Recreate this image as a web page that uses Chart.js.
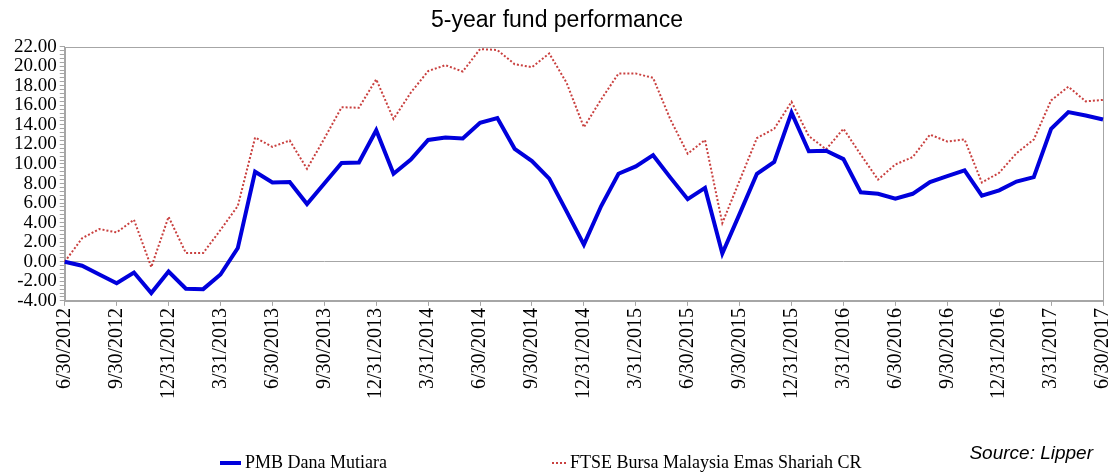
<!DOCTYPE html>
<html lang="en">
  <head>
    <meta charset="UTF-8" />
    <title>5-year fund performance</title>
    <style>
      * {
        margin: 0;
        padding: 0;
        box-sizing: border-box;
      }
      body {
        background: white;
      }
      .chartBox {
        width: 1115px;
        height: 473px;
      }
    </style>
  </head>
  <body>
    <div class="chartBox">
      <canvas id="myChart"></canvas>
    </div>

    <script src="https://cdn.jsdelivr.net/npm/chart.js"></script>

    <script>
      // month-end dates, 6/2012 .. 6/2017
      const months = [
        "6/30/2012", "7/31/2012", "8/31/2012", "9/30/2012", "10/31/2012", "11/30/2012", "12/31/2012",
        "1/31/2013", "2/28/2013", "3/31/2013", "4/30/2013", "5/31/2013", "6/30/2013",
        "7/31/2013", "8/31/2013", "9/30/2013", "10/31/2013", "11/30/2013", "12/31/2013",
        "1/31/2014", "2/28/2014", "3/31/2014", "4/30/2014", "5/31/2014", "6/30/2014",
        "7/31/2014", "8/31/2014", "9/30/2014", "10/31/2014", "11/30/2014", "12/31/2014",
        "1/31/2015", "2/28/2015", "3/31/2015", "4/30/2015", "5/31/2015", "6/30/2015",
        "7/31/2015", "8/31/2015", "9/30/2015", "10/31/2015", "11/30/2015", "12/31/2015",
        "1/31/2016", "2/29/2016", "3/31/2016", "4/30/2016", "5/31/2016", "6/30/2016",
        "7/31/2016", "8/31/2016", "9/30/2016", "10/31/2016", "11/30/2016", "12/31/2016",
        "1/31/2017", "2/28/2017", "3/31/2017", "4/30/2017", "5/31/2017", "6/30/2017",
      ];

      const fundName = "PMB Dana Mutiara";
      const fundValues = [
        0, -0.4, -1.3, -2.2, -1.1, -3.2, -1.0,
        -2.75, -2.8, -1.3, 1.4, 9.2, 8.1,
        8.15, 5.9, 8.0, 10.1, 10.15, 13.45,
        9.0, 10.45, 12.45, 12.7, 12.6, 14.2,
        14.7, 11.55, 10.3, 8.5, 5.15, 1.75,
        5.7, 9.0, 9.75, 10.9, 8.6, 6.4,
        7.55, 0.85, 4.9, 9.0, 10.2, 15.25,
        11.3, 11.35, 10.5, 7.1, 6.95, 6.45,
        6.95, 8.15, 8.75, 9.35, 6.75, 7.3,
        8.2, 8.65, 13.6, 15.3, 14.95, 14.55,
      ];

      const indexName = "FTSE Bursa Malaysia Emas Shariah CR";
      const indexValues = [
        0, 2.4, 3.35, 3.0, 4.3, -0.55, 4.6,
        0.9, 0.9, 3.25, 5.7, 12.7, 11.75,
        12.4, 9.5, 12.6, 15.8, 15.75, 18.65,
        14.6, 17.3, 19.5, 20.1, 19.45, 21.75,
        21.65, 20.2, 19.9, 21.3, 18.3, 13.75,
        16.6, 19.25, 19.25, 18.8, 14.55, 11.05,
        12.45, 3.95, 8.3, 12.65, 13.6, 16.35,
        12.85, 11.5, 13.6, 10.95, 8.4, 9.95,
        10.7, 13.0, 12.3, 12.5, 8.1, 9.1,
        11.1, 12.5, 16.5, 17.9, 16.4, 16.55,
      ];

      const yMin = -4;
      const yMax = 22;
      const sourceText = "Source: Lipper";

      const axisGray = "#a6a6a6";

      // box around the plot area
      const plotFrame = {
        id: "plotFrame",
        beforeDatasetsDraw(chart) {
          const { ctx, chartArea: a } = chart;
          ctx.save();
          ctx.strokeStyle = axisGray;
          ctx.lineWidth = 1;
          ctx.strokeRect(
            Math.round(a.left) + 0.5,
            Math.round(a.top) + 0.5,
            Math.round(a.right - a.left),
            Math.round(a.bottom - a.top)
          );
          ctx.restore();
        },
      };

      // legend row + source note at the bottom
      const bottomNotes = {
        id: "bottomNotes",
        afterDraw(chart, args, opts) {
          const { ctx } = chart;
          ctx.save();
          ctx.font = opts.font;
          ctx.fillStyle = "#000";
          ctx.textBaseline = "alphabetic";
          chart.data.datasets.forEach((ds, i) => {
            const item = opts.items[i];
            ctx.save();
            ctx.strokeStyle = ds.borderColor;
            ctx.lineWidth = item.lineWidth;
            ctx.setLineDash(ds.borderDash || []);
            ctx.beginPath();
            ctx.moveTo(item.x, opts.lineY);
            ctx.lineTo(item.x + item.w, opts.lineY);
            ctx.stroke();
            ctx.restore();
            ctx.fillText(ds.label, item.x + item.w + 4, opts.textY);
          });
          ctx.font = opts.sourceFont;
          ctx.textAlign = "right";
          ctx.fillText(sourceText, opts.sourceX, opts.sourceY);
          ctx.restore();
        },
      };

      const data = {
        labels: months,
        datasets: [
          {
            label: fundName,
            data: fundValues,
            borderColor: "#0000dc",
            backgroundColor: "#0000dc",
            borderWidth: 4,
            pointRadius: 0,
            tension: 0,
          },
          {
            label: indexName,
            data: indexValues,
            borderColor: "#c9403f",
            backgroundColor: "#c9403f",
            borderWidth: 2,
            borderDash: [2, 2],
            pointRadius: 0,
            tension: 0,
          },
        ],
      };

      const config = {
        type: "line",
        data: data,
        options: {
          responsive: true,
          maintainAspectRatio: false,
          animation: false,
          layout: {
            padding: { left: 11, right: 12, top: 0, bottom: 72 },
          },
          plugins: {
            legend: { display: false },
            tooltip: { enabled: false },
            title: {
              display: true,
              text: "5-year fund performance",
              color: "#000",
              font: { family: "'Liberation Sans', Arial, sans-serif", size: 23, weight: "normal" },
              padding: { top: 7, bottom: 12 },
            },
            bottomNotes: {
              font: "18px 'Liberation Serif', serif",
              lineY: 463,
              textY: 468,
              items: [
                { x: 220, w: 21, lineWidth: 4 },
                { x: 552, w: 14, lineWidth: 2 },
              ],
              sourceFont: "italic 19px 'Liberation Sans', sans-serif",
              sourceX: 1093,
              sourceY: 459,
            },
          },
          scales: {
            x: {
              // the rotated end label would otherwise push the plot in from the right
              afterFit: (scale) => {
                scale.paddingRight = 0;
              },
              grid: {
                drawOnChartArea: false,
                tickLength: 5,
                tickColor: (c) => (c.index % 3 === 0 ? axisGray : "rgba(0,0,0,0)"),
              },
              border: { display: true, color: axisGray },
              ticks: {
                autoSkip: false,
                minRotation: 90,
                maxRotation: 90,
                padding: 2,
                color: "#000",
                font: { family: "'Liberation Serif', serif", size: 20 },
                callback: function (val, i) {
                  return i % 3 === 0 ? this.getLabelForValue(val) : "";
                },
              },
            },
            y: {
              min: yMin,
              max: yMax,
              grid: {
                drawOnChartArea: true,
                tickLength: 5,
                tickColor: axisGray,
                color: (c) =>
                  c.tick && Math.abs(c.tick.value) < 1e-9 ? axisGray : "rgba(0,0,0,0)",
              },
              border: { display: true, color: axisGray },
              ticks: {
                stepSize: 0.4,
                autoSkip: false,
                padding: 3,
                color: "#000",
                font: { family: "'Liberation Serif', serif", size: 19 },
                callback: (v) => {
                  const half = v / 2;
                  return Math.abs(half - Math.round(half)) < 1e-6 ? v.toFixed(2) : "";
                },
              },
            },
          },
        },
        plugins: [plotFrame, bottomNotes],
      };

      const myChart = new Chart(document.getElementById("myChart"), config);
    </script>
  </body>
</html>
